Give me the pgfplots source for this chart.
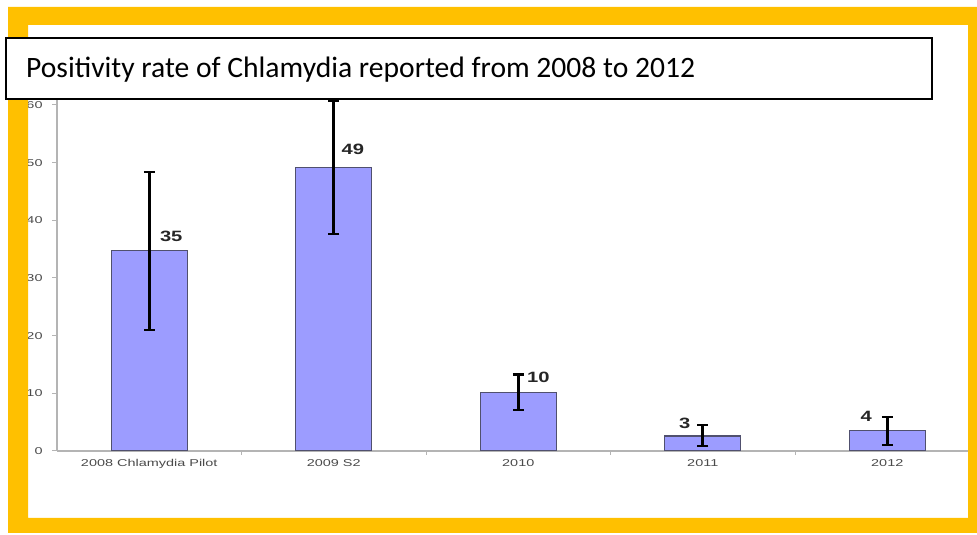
\documentclass[border=0pt]{standalone}
\usepackage{fontspec}
\setmainfont{Liberation Sans}
\newfontfamily\calibri{Carlito}
\usepackage{pgfplots}
\usepackage{pgfplotstable}
\pgfplotsset{compat=1.18}
\definecolor{frame}{HTML}{FFC000}
\definecolor{barfill}{HTML}{9C9CFF}
\definecolor{baredge}{HTML}{50506E}
\definecolor{axgray}{HTML}{B4B4B4}
\definecolor{labgray}{HTML}{4A4A4A}

% positivity rate, error up/down, label, label offset (bp)
\pgfplotstableread{
x  y    ep   em   lab dx  dy
0  34.7 13.7 13.7 35  22  14
1  49.2 11.6 11.6 49  19  18
2  10.2 3.1  3.1  10  20  15
3  2.6  1.9  1.7  3   -18 13
4  3.5  2.4  2.5  4   -21 14
}\rates

\begin{document}
\begin{tikzpicture}[x=1bp,y=1bp]
\useasboundingbox (0,0) rectangle (977,535);
\fill[white] (0,0) rectangle (977,535);
\begin{axis}[
  at={(57bp,84bp)}, anchor=south west,
  width=922.5bp, height=357.6bp, scale only axis,
  xmin=-0.5, xmax=4.5, ymin=0, ymax=62,
  axis x line*=bottom, axis y line*=left,
  axis line style={axgray, line width=1.5bp, -},
  ytick={0,10,...,60},
  xtick={0,...,4},
  xticklabels={2008 Chlamydia Pilot, 2009 S2, 2010, 2011, 2012},
  minor xtick={0.5,1.5,2.5,3.5},
  tick align=outside,
  major tick length=5bp, minor tick length=4bp,
  tick style={axgray, line width=1bp},
  major x tick style={draw=none},
  /pgf/number format/assume math mode=true,
  tick label style={font=\fontsize{10}{10}\selectfont, text=labgray, xscale=1.45},
  yticklabel style={xshift=-3bp},
  bar width=76bp,
  nodes near coords, point meta=explicit symbolic,
  visualization depends on={\thisrow{dx}\as\dx},
  visualization depends on={\thisrow{dy}\as\dy},
  every node near coord/.append style={font=\bfseries\fontsize{15}{15}\selectfont,
    anchor=center, xshift=\dx bp, yshift=\dy bp, xscale=1.35, text=black!85},
]
\addplot[ybar, fill=barfill, draw=baredge, line width=1.2bp,
  error bars/.cd, y dir=both, y explicit,
  error bar style={black, line width=3bp},
  error mark options={rotate=90, mark size=5.5bp, line width=2.5bp, black}]
  table[x=x, y=y, y error plus=ep, y error minus=em, meta=lab] {\rates};
\end{axis}
\fill[frame, even odd rule] (8,2) rectangle (985,528) (28,17) rectangle (968,510);
\draw[black, line width=1.5bp, fill=white] (6,436) rectangle (932,497);
\node[anchor=base west, inner sep=0pt, font=\calibri\fontsize{29.7}{30}\selectfont] at (26,457)
  {Positivity rate of Chlamydia reported from 2008 to 2012};
\end{tikzpicture}
\end{document}
